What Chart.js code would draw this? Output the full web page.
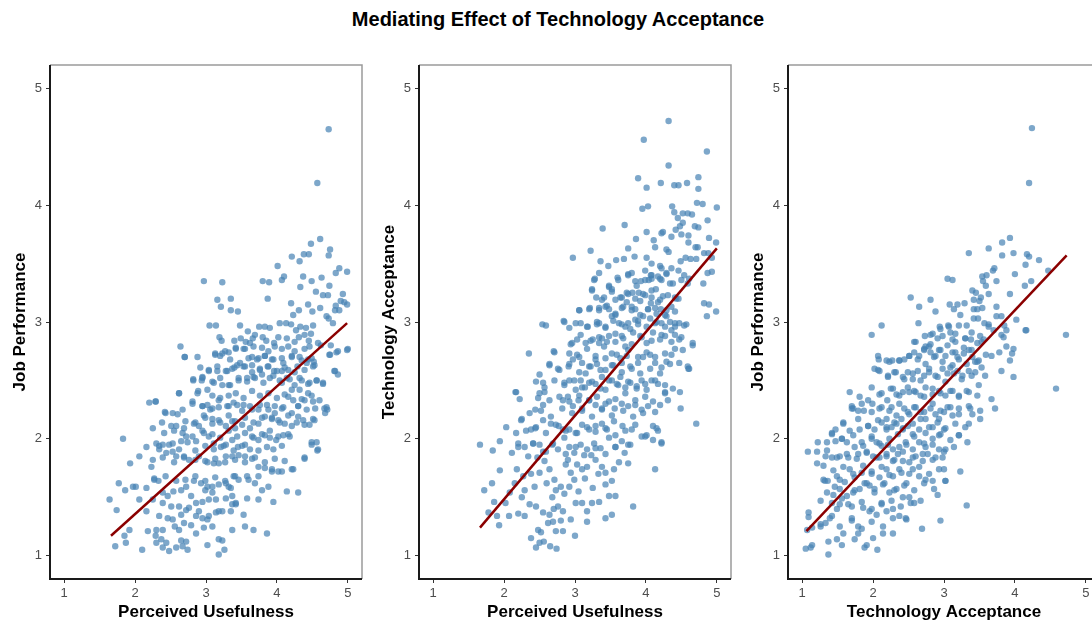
<!DOCTYPE html>
<html>
<head>
<meta charset="utf-8">
<script src="https://cdn.jsdelivr.net/npm/chart.js@4.4.1/dist/chart.umd.min.js"></script>
<style>
	html, body { margin: 0; padding: 0; background: #ffffff; overflow: hidden; }
	#page { position: relative; width: 1092px; height: 624px; overflow: hidden; }
	#titre { position: absolute; left: 0; width: 1116px; top: 8px; text-align: center;
		font: bold 20px 'Liberation Sans', Arial, sans-serif; color: #000; }
	.panneau { position: absolute; top: 0; }
</style>
</head>
<body>
<div id="page">
	<div id="titre">Mediating Effect of Technology Acceptance</div>
	<div class="panneau" style="left:0px"><canvas id="c1" width="366" height="624"></canvas></div>
	<div class="panneau" style="left:369px"><canvas id="c2" width="366" height="624"></canvas></div>
	<div class="panneau" style="left:738px"><canvas id="c3" width="366" height="624"></canvas></div>
</div>
<script>
// tick values shared by both axes of every panel
const tickValues = [1, 2, 3, 4, 5];

// Perceived Usefulness (x) vs Job Performance (y)
const usefulnessPerformance = [
	[4.73,4.65],[4.57,4.19],[4.61,3.71],[4.48,3.67],[4.75,3.62],[4.38,3.58],[4.45,3.58],[4.21,3.56],[4.32,3.52],[4.01,3.48],
	[4.73,3.57],[4.88,3.46],[4.83,3.42],[4.99,3.43],[4.49,3.35],[4.37,3.39],[4.10,3.39],[4.07,3.36],[3.80,3.35],[3.89,3.34],
	[2.97,3.35],[3.23,3.34],[4.63,3.38],[4.33,3.30],[4.74,3.31],[4.55,3.26],[4.65,3.23],[4.72,3.23],[4.93,3.24],[3.87,3.20],
	[3.16,3.19],[3.35,3.20],[3.21,3.13],[3.35,3.10],[3.45,3.09],[4.20,3.16],[4.44,3.15],[4.61,3.12],[4.83,3.14],[4.90,3.18],
	[4.95,3.17],[4.99,3.15],[4.82,3.10],[4.88,3.10],[4.23,3.06],[4.31,3.10],[4.50,3.09],[4.70,3.05],[4.73,3.03],[4.79,2.99],
	[3.05,2.97],[3.14,2.97],[3.48,2.97],[3.19,2.87],[3.75,2.96],[3.83,2.96],[3.90,2.95],[4.04,2.99],[4.13,2.99],[4.20,2.98],
	[4.27,2.93],[4.33,2.96],[4.41,2.95],[4.51,2.97],[3.59,2.92],[3.69,2.89],[3.49,2.86],[3.56,2.83],[3.80,2.87],[4.02,2.87],
	[4.14,2.86],[4.31,2.87],[4.39,2.89],[4.48,2.90],[2.64,2.79],[4.58,2.82],[5.00,2.77],[3.66,2.86],
	[3.22,2.84],[3.40,2.84],[3.62,2.82],[3.85,2.84],[3.96,2.82],[4.25,2.83],[4.45,2.84],[4.62,2.80],[4.76,2.80],
	[2.70,2.70],[3.13,2.72],[3.23,2.73],[3.32,2.74],[3.42,2.77],[3.53,2.77],[3.65,2.70],[3.74,2.69],[3.83,2.71],[3.93,2.68],
	[4.07,2.69],[4.21,2.71],[4.32,2.70],[4.44,2.68],[4.74,2.72],[4.84,2.74],[4.99,2.76],[4.52,2.66],[2.82,2.50],[2.94,2.50],
	[2.95,2.53],[3.04,2.58],[3.16,2.58],[3.28,2.58],[3.37,2.60],[3.44,2.63],[3.55,2.62],[3.65,2.63],[3.76,2.60],[3.87,2.62],
	[3.96,2.58],[4.07,2.58],[4.16,2.59],[4.29,2.62],[4.42,2.65],[4.53,2.63],[4.81,2.58],[4.86,2.55],[2.88,2.39],[3.02,2.42],
	[3.11,2.48],[3.23,2.46],[3.32,2.46],[3.46,2.50],[3.58,2.52],[3.67,2.53],[3.79,2.55],[3.90,2.52],[4.04,2.50],[4.14,2.52],
	[4.25,2.46],[4.35,2.50],[4.46,2.48],[4.56,2.50],[4.65,2.48],[4.60,2.33],[4.32,2.42],[4.44,2.39],[2.62,2.39],[2.20,2.31],
	[2.29,2.32],[2.42,2.23],[2.53,2.22],[2.67,2.25],[2.81,2.32],[2.95,2.28],[3.02,2.29],[3.09,2.26],[3.18,2.33],[3.32,2.28],
	[3.44,2.29],[3.53,2.29],[3.65,2.25],[3.76,2.29],[3.88,2.25],[3.97,2.28],[4.07,2.26],[4.16,2.36],[4.23,2.33],[4.30,2.28],
	[4.39,2.33],[4.51,2.32],[4.67,2.26],[4.71,2.25],[2.25,2.09],[2.38,2.14],[2.51,2.11],[2.58,2.11],[2.69,2.09],[2.83,2.13],
	[2.90,2.11],[2.99,2.18],[3.09,2.13],[3.18,2.16],[3.28,2.11],[3.37,2.15],[3.41,2.09],[3.51,2.12],[3.62,2.09],[3.74,2.13],
	[3.83,2.19],[3.93,2.18],[4.02,2.16],[4.11,2.13],[4.21,2.11],[4.30,2.19],[4.37,2.16],[4.46,2.12],[4.53,2.16],[1.83,2.00],
	[2.16,1.93],[2.30,1.96],[2.39,1.95],[2.53,1.96],[2.65,1.98],[2.72,2.02],[2.86,1.98],[2.97,2.05],[3.04,2.02],[3.11,1.96],
	[3.21,1.93],[3.28,1.95],[3.37,1.99],[3.45,1.93],[3.55,1.95],[3.65,2.02],[3.74,1.99],[3.83,2.03],[3.90,2.01],[3.99,1.99],
	[4.09,2.03],[4.18,2.02],[4.49,1.95],[4.57,1.90],[4.39,1.83],[1.93,1.79],[2.06,1.85],[2.23,1.76],[2.34,1.91],[2.44,1.88],
	[2.53,1.89],[2.58,1.85],[2.69,1.84],[2.76,1.82],[2.90,1.85],[2.99,1.81],[3.11,1.79],[3.18,1.79],[3.28,1.85],[3.37,1.85],
	[3.46,1.86],[3.55,1.85],[3.65,1.83],[3.74,1.76],[3.83,1.75],[3.93,1.74],[4.02,1.72],[4.11,1.81],[4.21,1.74],[1.77,1.62],
	[1.86,1.56],[2.01,1.59],[2.16,1.58],[2.27,1.66],[2.33,1.64],[2.39,1.54],[2.54,1.55],[2.58,1.64],[2.72,1.59],[2.83,1.64],
	[2.93,1.62],[2.99,1.56],[3.09,1.59],[3.18,1.61],[3.28,1.62],[3.35,1.58],[3.39,1.68],[3.46,1.65],[3.58,1.68],[3.69,1.62],
	[3.79,1.56],[3.88,1.59],[4.14,1.55],[4.30,1.54],[1.64,1.48],[2.25,1.48],[2.39,1.45],[2.51,1.42],[2.62,1.42],[2.76,1.41],
	[2.86,1.45],[2.95,1.46],[3.04,1.48],[3.14,1.48],[3.28,1.49],[3.37,1.44],[3.42,1.45],[3.58,1.49],[3.74,1.48],[3.95,1.46],
	[1.92,1.22],[1.85,1.17],[2.18,1.21],[2.29,1.17],[2.39,1.22],[2.46,1.32],[2.56,1.25],[2.65,1.35],[2.69,1.28],[2.79,1.26],
	[2.86,1.34],[2.95,1.32],[3.02,1.31],[3.14,1.37],[3.23,1.38],[3.35,1.38],[3.42,1.44],[3.55,1.25],[3.67,1.22],[3.86,1.19],
	[1.72,1.08],[1.87,1.11],[2.10,1.05],[2.30,1.11],[2.39,1.07],[2.48,1.04],[2.58,1.07],[2.67,1.08],[2.74,1.05],[3.02,1.09],
	[3.18,1.01],[3.26,1.05],[3.18,1.14],[3.23,1.13],[2.65,1.13],[2.37,1.14],
	[3.13,2.73],[3.27,2.75],[3.42,2.78],[3.55,2.77],[3.67,2.79],[3.79,2.78],[3.88,2.75],[3.97,2.79],[4.07,2.77],[4.16,2.79],
	[4.25,2.75],[4.39,2.77],[4.46,2.79],[2.70,2.70],[2.88,2.70],[3.20,2.71],[3.34,2.68],[3.48,2.65],[3.60,2.69],[3.72,2.68],
	[3.83,2.71],[3.95,2.68],[4.09,2.65],[4.21,2.70],[4.35,2.67],[4.49,2.69],[4.75,2.72],[4.86,2.75],[2.92,2.61],[3.04,2.59],
	[3.16,2.62],[3.30,2.58],[3.40,2.61],[3.53,2.62],[3.65,2.57],[3.76,2.59],[3.88,2.62],[4.00,2.58],[4.11,2.61],[4.25,2.57],
	[4.39,2.59],[4.51,2.62],[4.82,2.58],[2.82,2.51],[2.95,2.52],[3.09,2.49],[3.20,2.52],[3.34,2.46],[3.46,2.52],[3.58,2.49],
	[3.69,2.52],[3.81,2.48],[3.95,2.54],[4.07,2.48],[4.18,2.51],[4.32,2.52],[4.44,2.47],[4.56,2.50],[4.65,2.47],[2.62,2.39],
	[2.89,2.41],[3.09,2.37],[3.20,2.35],[3.32,2.37],[3.42,2.39],[3.53,2.35],[3.65,2.41],[3.76,2.37],[3.88,2.39],[4.00,2.35],
	[4.11,2.38],[4.21,2.42],[4.35,2.34],[4.49,2.37],[2.29,2.32],[2.81,2.30],[2.95,2.28],[3.06,2.25],[3.18,2.27],[3.30,2.28],
	[3.39,2.31],[3.51,2.24],[3.62,2.28],[3.74,2.25],[3.86,2.29],[3.97,2.22],[4.09,2.27],[4.21,2.22],[4.30,2.28],[4.42,2.25],
	[4.54,2.26],[4.70,2.27],[2.43,2.22],[2.60,2.21],[2.71,2.15],[2.85,2.14],[2.97,2.20],[3.09,2.17],[3.20,2.14],[3.32,2.20],
	[3.41,2.15],[3.55,2.18],[3.67,2.14],[3.79,2.18],[3.93,2.17],[4.04,2.14],[4.16,2.20],[4.28,2.14],[4.39,2.12],[4.51,2.17],
	[4.68,2.22],[2.41,2.05],[2.55,2.07],[2.67,2.05],[2.81,2.02],[2.95,2.07],[3.09,2.04],[3.20,2.01],[3.32,2.07],[3.44,2.02],
	[3.55,2.05],[3.67,2.01],[3.79,2.04],[3.90,2.07],[4.02,2.02],[4.16,2.04],[4.49,1.97],[4.56,1.97],[2.34,1.94],[2.48,1.95],
	[2.62,1.91],[2.74,1.97],[2.85,1.90],[2.99,1.94],[3.11,1.91],[3.25,1.94],[3.39,1.90],[3.51,1.94],[3.62,1.91],[3.74,1.90],
	[3.86,1.93],[3.95,1.91],[4.07,1.94],[4.58,1.91],[2.25,1.82],[2.39,1.84],[2.55,1.80],[2.69,1.85],[2.85,1.82],[3.02,1.80],
	[3.13,1.83],[3.27,1.80],[3.41,1.82],[3.55,1.80],[3.69,1.84],[3.83,1.80],[3.97,1.83],[4.39,1.84],[2.27,1.65],[2.43,1.68],
	[2.71,1.65],[2.85,1.68],[2.99,1.64],[3.13,1.67],[3.27,1.64],[3.41,1.68],[3.60,1.65],[3.74,1.68],[3.93,1.72],[4.07,1.72],
	[4.23,1.74],[2.46,1.51],[2.65,1.56],[2.79,1.51],[2.90,1.38],[3.04,1.34],[3.09,1.25],[3.18,1.38],[3.37,1.51],[3.09,1.54],
	[3.02,1.59],[3.32,1.59],[2.72,1.39],[2.53,1.31],[2.34,1.34],[2.16,1.38],[2.06,1.48],[1.97,1.59],[1.74,1.39],[2.30,1.22],
	[2.62,1.22],[2.86,1.19],[2.97,1.24],[3.37,1.22],[3.53,1.35],[2.72,1.12],[2.44,1.11]
];

// Perceived Usefulness (x) vs Technology Acceptance (y)
const usefulnessAcceptance = [
	[4.32,4.72],[3.97,4.56],[4.86,4.46],[4.32,4.34],[3.89,4.23],[4.74,4.24],[4.21,4.19],[4.01,4.15],[4.40,4.17],[4.46,4.17],
	[4.58,4.19],[4.74,4.14],[3.95,3.97],[4.03,3.99],[4.37,3.99],[4.72,4.02],[4.80,4.01],[5.00,3.98],[4.40,3.94],[4.52,3.93],
	[4.59,3.93],[4.65,3.92],[4.45,3.89],[4.52,3.85],[4.87,3.87],[4.42,3.79],[4.48,3.82],[4.69,3.82],[4.74,3.81],[3.39,3.80],
	[3.70,3.83],[4.01,3.77],[4.22,3.76],[4.24,3.77],[4.36,3.73],[4.50,3.75],[4.60,3.74],[4.89,3.72],[3.86,3.71],[4.11,3.70],
	[4.60,3.68],[4.70,3.64],[4.73,3.64],[4.99,3.68],[3.75,3.63],[4.13,3.64],[4.29,3.62],[4.32,3.60],[3.22,3.61],[2.97,3.55],
	[3.58,3.53],[3.69,3.54],[3.84,3.56],[4.01,3.55],[4.49,3.52],[4.56,3.55],[4.63,3.54],[4.71,3.54],[4.82,3.59],[4.88,3.59],
	[4.93,3.55],[3.36,3.52],[3.47,3.48],[4.08,3.50],[4.20,3.48],[4.22,3.46],[4.36,3.46],[4.46,3.44],[4.87,3.42],[4.93,3.43],
	[3.34,3.42],[3.75,3.41],[3.80,3.42],[3.99,3.44],[4.07,3.40],[4.17,3.39],[4.29,3.42],[4.54,3.40],[3.28,3.37],[3.60,3.38],
	[3.85,3.35],[3.93,3.35],[4.04,3.36],[4.08,3.37],[4.22,3.36],[4.34,3.33],[4.59,3.33],[4.81,3.33],[3.24,3.28],[3.52,3.28],
	[3.48,3.30],[3.73,3.25],[3.81,3.25],[3.90,3.25],[3.99,3.23],[4.08,3.27],[4.14,3.28],[4.24,3.22],[4.41,3.21],[4.46,3.20],
	[3.30,3.21],[3.41,3.21],[3.57,3.19],[3.66,3.21],[3.73,3.17],[3.92,3.18],[4.07,3.16],[4.17,3.17],[4.82,3.16],[4.89,3.15],
	[3.06,3.10],[3.21,3.12],[3.34,3.12],[3.43,3.13],[3.48,3.11],[3.66,3.12],[3.80,3.13],[3.85,3.11],[4.03,3.11],[4.13,3.12],
	[4.21,3.11],[4.27,3.06],[4.36,3.13],[4.99,3.09],[4.86,3.05],[2.54,2.98],[2.59,2.97],[2.84,3.01],[2.92,2.95],[3.08,2.99],
	[3.18,2.96],[3.31,2.98],[3.34,2.99],[3.43,2.95],[3.52,3.05],[3.57,3.06],[3.62,2.99],[3.71,2.96],[3.75,2.99],[3.85,3.02],
	[3.89,2.98],[3.96,3.05],[4.06,3.03],[4.13,2.99],[4.22,2.99],[4.29,3.05],[4.34,3.00],[4.41,2.96],[4.47,2.99],[4.57,2.98],
	[4.66,2.82],[4.47,2.85],[2.96,2.82],[3.03,2.85],[3.15,2.82],[3.25,2.85],[3.34,2.82],[3.38,2.86],[3.48,2.88],[3.57,2.83],
	[3.66,2.88],[3.71,2.79],[3.82,2.91],[3.92,2.88],[4.01,2.82],[4.10,2.91],[4.20,2.85],[4.27,2.88],[4.36,2.93],[4.41,2.89],
	[2.35,2.73],[2.70,2.75],[2.64,2.64],[2.76,2.60],[2.91,2.62],[2.97,2.68],[3.03,2.72],[3.10,2.65],[3.15,2.56],[3.22,2.62],
	[3.29,2.68],[3.36,2.59],[3.43,2.69],[3.52,2.63],[3.59,2.72],[3.66,2.65],[3.73,2.71],[3.80,2.60],[3.89,2.65],[3.96,2.70],
	[4.06,2.72],[4.13,2.65],[4.22,2.61],[4.29,2.66],[4.36,2.72],[4.47,2.65],[4.52,2.76],[4.66,2.80],[4.60,2.60],[2.50,2.55],
	[2.55,2.48],[2.57,2.40],[2.48,2.35],[2.85,2.48],[2.92,2.50],[3.01,2.42],[3.08,2.50],[3.14,2.44],[3.20,2.48],[3.29,2.47],
	[3.38,2.53],[3.43,2.42],[3.52,2.50],[3.59,2.47],[3.64,2.53],[3.71,2.44],[3.78,2.48],[3.87,2.45],[3.94,2.50],[4.01,2.42],
	[4.08,2.50],[4.17,2.47],[4.27,2.39],[4.38,2.43],[4.48,2.40],[4.59,2.62],[2.16,2.40],[2.22,2.34],[2.55,2.29],[2.44,2.25],
	[2.83,2.33],[2.90,2.36],[2.97,2.28],[3.05,2.33],[3.10,2.26],[3.20,2.33],[3.29,2.29],[3.38,2.25],[3.48,2.32],[3.56,2.26],
	[3.66,2.30],[3.75,2.28],[3.85,2.29],[3.94,2.25],[4.03,2.28],[4.10,2.32],[4.20,2.29],[4.31,2.33],[4.49,2.26],[2.25,2.17],
	[2.38,2.08],[2.44,2.09],[2.55,2.16],[2.66,2.13],[2.77,2.11],[2.83,2.08],[2.92,2.08],[3.01,2.05],[3.10,2.12],[3.20,2.08],
	[3.29,2.11],[3.38,2.13],[3.45,2.08],[3.55,2.15],[3.67,2.11],[3.80,2.08],[4.10,2.11],[4.15,2.09],[4.71,2.13],[1.66,1.95],
	[1.84,1.90],[1.94,1.98],[2.03,2.10],[2.11,1.88],[2.20,1.96],[2.29,1.93],[2.34,1.85],[2.41,1.96],[2.50,1.95],[2.59,1.89],
	[2.69,1.96],[2.76,1.91],[2.85,2.01],[2.92,1.93],[2.99,1.88],[3.08,1.95],[3.17,1.91],[3.27,1.96],[3.36,1.92],[3.48,2.01],
	[3.57,1.93],[3.66,1.98],[3.78,1.95],[3.99,2.02],[4.22,1.96],[4.10,1.99],[1.83,1.62],[1.72,1.56],[1.86,1.46],[1.94,1.73],
	[2.08,1.54],[2.18,1.74],[2.27,1.68],[2.29,1.56],[2.43,1.59],[2.57,1.81],[2.50,1.71],[2.64,1.74],[2.71,1.65],[2.73,1.56],
	[2.80,1.59],[2.87,1.78],[2.94,1.71],[2.99,1.65],[3.03,1.78],[3.10,1.74],[3.17,1.76],[3.29,1.82],[3.38,1.76],[3.43,1.71],
	[3.55,1.74],[3.75,1.79],[4.13,1.74],[3.43,1.61],[3.48,1.51],[3.57,1.51],[3.82,1.42],[2.92,1.59],[3.01,1.45],[3.10,1.45],
	[3.17,1.38],[3.24,1.45],[3.34,1.46],[3.43,1.32],[3.52,1.35],[3.17,1.29],[1.78,1.37],[1.90,1.34],[1.93,1.26],[2.07,1.34],
	[2.20,1.36],[2.29,1.34],[2.45,1.42],[2.55,1.37],[2.64,1.35],[2.69,1.29],[2.76,1.42],[2.83,1.38],[2.94,1.31],[2.38,1.15],
	[2.48,1.22],[2.45,1.07],[2.50,1.11],[2.56,1.12],[2.65,1.08],[2.74,1.06],[2.73,1.21],[2.83,1.21],[3.00,1.17],
	[3.27,3.36],[3.48,3.31],[3.61,3.36],[3.75,3.40],[3.87,3.31],[3.99,3.36],[4.08,3.40],[4.20,3.37],[4.29,3.41],[4.38,3.33],
	[4.50,3.36],[4.61,3.37],[3.24,3.27],[3.38,3.19],[3.52,3.26],[3.64,3.21],[3.75,3.24],[3.85,3.20],[3.96,3.24],[4.08,3.21],
	[4.20,3.19],[4.31,3.23],[4.43,3.20],[3.06,3.10],[3.20,3.11],[3.34,3.10],[3.45,3.14],[3.57,3.07],[3.68,3.13],[3.80,3.10],
	[3.92,3.06],[4.03,3.11],[4.15,3.07],[4.29,3.10],[4.41,3.09],[2.85,3.00],[3.01,2.99],[3.17,2.96],[3.31,3.00],[3.43,2.96],
	[3.54,3.01],[3.66,2.98],[3.78,2.94],[3.89,3.01],[4.01,2.96],[4.15,3.00],[4.27,2.96],[4.41,2.99],[4.54,2.97],[2.94,2.81],
	[3.08,2.89],[3.22,2.84],[3.34,2.87],[3.45,2.83],[3.57,2.90],[3.68,2.86],[3.80,2.81],[3.94,2.87],[4.08,2.84],[4.22,2.89],
	[4.36,2.83],[4.50,2.87],[2.71,2.74],[2.92,2.73],[3.06,2.70],[3.17,2.77],[3.29,2.71],[3.41,2.79],[3.52,2.73],[3.64,2.69],
	[3.75,2.76],[3.89,2.70],[4.01,2.74],[4.13,2.70],[4.27,2.73],[4.41,2.77],[2.64,2.63],[2.78,2.59],[2.92,2.64],[3.06,2.57],
	[3.20,2.62],[3.31,2.64],[3.43,2.59],[3.54,2.63],[3.66,2.57],[3.78,2.62],[3.92,2.56],[4.06,2.60],[4.20,2.56],[4.34,2.64],
	[4.61,2.60],[2.45,2.49],[2.57,2.44],[2.71,2.50],[2.85,2.46],[2.99,2.50],[3.10,2.44],[3.24,2.49],[3.36,2.43],[3.48,2.50],
	[3.61,2.46],[3.75,2.49],[3.87,2.43],[3.99,2.47],[4.13,2.50],[4.27,2.46],[2.17,2.40],[2.50,2.39],[2.64,2.33],[2.78,2.36],
	[2.92,2.32],[3.06,2.37],[3.20,2.33],[3.31,2.36],[3.43,2.30],[3.57,2.34],[3.71,2.39],[3.85,2.33],[3.99,2.36],[4.27,2.40],
	[2.24,2.16],[2.36,2.22],[2.52,2.24],[2.66,2.19],[2.82,2.26],[2.96,2.22],[3.10,2.24],[3.24,2.19],[3.38,2.26],[3.52,2.20],
	[3.68,2.24],[3.82,2.19],[3.96,2.22],[4.13,2.23],[2.17,2.05],[2.31,2.07],[2.45,2.10],[2.59,2.05],[2.73,2.12],[2.87,2.07],
	[3.03,2.05],[3.17,2.10],[3.29,2.06],[3.43,2.09],[3.57,2.03],[3.71,2.07],[3.85,2.12],[4.01,2.03],[4.17,2.07],[2.20,1.93],
	[2.41,1.96],[2.55,1.89],[2.68,1.95],[2.87,1.87],[3.01,1.93],[3.13,1.86],[3.29,1.92],[3.43,1.87],[3.57,1.93],[3.75,1.95],
	[3.94,2.02],[4.22,1.97],[2.25,1.50],[2.36,1.44],[2.60,1.62],[2.68,1.50],[2.85,1.53],[2.62,1.28],[2.52,1.20],[2.80,1.30],
	[3.05,1.55],[3.14,1.66],[3.25,1.58],[3.33,1.70],[3.52,1.64],[3.62,1.80],[3.70,1.88],[2.15,1.62],[2.02,1.45],[2.38,1.70],
	[2.47,1.84],[2.90,1.82],[3.23,1.86],[2.70,1.40]
];

// Technology Acceptance (x) vs Job Performance (y)
const acceptancePerformance = [
	[4.24,4.66],[4.20,4.19],[3.93,3.72],[3.82,3.68],[3.63,3.63],[3.35,3.59],[3.98,3.59],[4.17,3.58],[4.20,3.56],[3.82,3.57],
	[4.34,3.53],[4.15,3.49],[4.47,3.44],[3.71,3.46],[3.69,3.44],[3.54,3.39],[3.60,3.40],[3.05,3.37],[3.12,3.36],[4.00,3.41],
	[3.55,3.35],[3.74,3.35],[4.23,3.35],[4.14,3.31],[3.59,3.31],[3.40,3.27],[3.45,3.25],[3.63,3.24],[3.93,3.24],[3.52,3.21],
	[3.50,3.18],[2.53,3.21],[2.81,3.19],[3.42,3.19],[2.65,3.13],[3.08,3.15],[3.19,3.15],[3.29,3.16],[2.88,3.09],[3.14,3.11],
	[3.42,3.11],[3.47,3.11],[3.54,3.12],[3.74,3.13],[3.23,3.06],[3.74,3.05],[3.81,3.05],[3.42,3.03],[3.48,3.03],[4.02,3.02],
	[3.57,2.99],[3.63,2.98],[3.85,2.97],[2.64,2.99],[2.94,2.96],[3.06,2.97],[3.21,2.97],[3.32,2.97],[4.15,2.93],[3.88,2.93],
	[3.70,2.93],[1.98,2.89],[2.12,2.97],[4.72,2.89],[2.73,2.88],[2.81,2.89],[2.91,2.86],[2.98,2.88],[3.12,2.85],[3.30,2.86],
	[3.38,2.85],[3.47,2.82],[3.56,2.85],[3.81,2.89],[3.84,2.87],[3.09,2.91],[3.16,2.83],[2.60,2.83],[2.74,2.79],[2.79,2.79],
	[3.78,2.74],[3.88,2.79],[3.98,2.77],[3.96,2.73],[4.16,2.93],[4.58,2.43],[2.07,2.71],[2.08,2.68],[2.19,2.67],[2.27,2.67],
	[2.37,2.67],[2.44,2.68],[2.51,2.71],[2.58,2.74],[2.65,2.71],[2.72,2.76],[2.81,2.74],[2.88,2.71],[2.95,2.76],[3.02,2.71],
	[3.12,2.74],[3.19,2.70],[3.28,2.73],[3.35,2.76],[3.40,2.70],[3.47,2.66],[3.59,2.72],[3.67,2.71],[3.93,2.67],[2.02,2.60],
	[2.09,2.58],[2.21,2.54],[2.30,2.57],[2.42,2.53],[2.49,2.57],[2.56,2.51],[2.63,2.58],[2.72,2.54],[2.79,2.60],[2.88,2.54],
	[2.98,2.60],[3.05,2.56],[3.12,2.63],[3.19,2.58],[3.26,2.54],[3.35,2.58],[3.44,2.57],[3.53,2.61],[3.58,2.54],[3.81,2.58],
	[3.98,2.53],[3.44,2.66],[1.67,2.40],[1.81,2.36],[1.93,2.33],[1.99,2.30],[2.09,2.38],[2.20,2.33],[2.28,2.43],[2.33,2.38],
	[2.42,2.40],[2.51,2.40],[2.58,2.41],[2.67,2.37],[2.74,2.44],[2.84,2.38],[2.93,2.41],[3.02,2.37],[3.12,2.41],[3.21,2.36],
	[3.35,2.40],[3.47,2.37],[3.67,2.34],[3.72,2.26],[1.70,2.28],[1.79,2.24],[1.72,2.26],[1.87,2.24],[2.09,2.26],[2.19,2.17],
	[2.26,2.27],[2.33,2.20],[2.40,2.17],[2.44,2.26],[2.51,2.21],[2.58,2.27],[2.67,2.23],[2.74,2.17],[2.81,2.26],[2.88,2.21],
	[2.93,2.17],[3.00,2.23],[3.05,2.27],[3.12,2.20],[3.21,2.26],[3.35,2.28],[3.40,2.21],[3.51,2.17],[3.35,2.13],[3.21,2.03],
	[1.58,2.14],[1.67,2.07],[1.42,2.05],[1.47,2.08],[1.81,2.08],[1.93,2.11],[2.02,2.08],[2.12,2.14],[2.19,2.08],[2.26,2.10],
	[2.33,2.13],[2.42,2.08],[2.49,2.11],[2.56,2.04],[2.65,2.08],[2.74,2.05],[2.84,2.10],[2.93,2.03],[3.00,2.08],[1.22,1.97],
	[1.35,1.97],[1.47,1.98],[1.56,2.00],[1.63,1.97],[1.74,1.93],[1.86,1.94],[1.98,2.00],[2.05,1.97],[2.12,1.94],[2.21,1.95],
	[2.28,1.91],[2.37,1.93],[2.47,1.95],[2.56,1.91],[2.65,1.97],[2.74,1.93],[2.84,1.95],[2.93,1.91],[3.02,1.91],[3.14,1.93],
	[3.33,1.97],[1.08,1.89],[1.21,1.79],[1.33,1.85],[1.42,1.84],[1.53,1.85],[1.65,1.84],[1.79,1.87],[1.91,1.88],[2.00,1.85],
	[2.09,1.84],[2.19,1.85],[2.28,1.81],[2.35,1.87],[2.42,1.81],[2.51,1.80],[2.60,1.85],[2.70,1.81],[2.77,1.87],[2.88,1.84],
	[2.98,1.84],[1.30,1.65],[1.36,1.64],[1.49,1.68],[1.53,1.65],[1.67,1.74],[1.74,1.67],[1.84,1.71],[1.91,1.62],[1.98,1.70],
	[2.09,1.67],[2.19,1.74],[2.28,1.68],[2.40,1.71],[2.47,1.62],[2.56,1.74],[2.65,1.68],[2.74,1.65],[2.84,1.64],[3.00,1.74],
	[3.02,1.64],[3.23,1.72],[1.35,1.54],[1.44,1.52],[1.53,1.57],[1.63,1.51],[1.72,1.54],[1.81,1.57],[1.95,1.60],[2.02,1.54],
	[2.14,1.61],[2.23,1.54],[2.33,1.57],[2.42,1.50],[2.51,1.50],[2.58,1.45],[2.91,1.52],[3.32,1.43],[1.09,1.37],[1.14,1.24],
	[1.26,1.25],[1.33,1.28],[1.42,1.34],[1.49,1.40],[1.53,1.44],[1.65,1.44],[1.70,1.32],[1.79,1.25],[1.86,1.41],[1.95,1.38],
	[2.05,1.35],[2.12,1.44],[2.19,1.38],[2.28,1.40],[2.37,1.34],[2.47,1.31],[2.14,1.19],[2.28,1.19],[2.69,1.23],[2.95,1.30],
	[1.05,1.06],[1.12,1.07],[1.14,1.09],[1.37,1.01],[1.37,1.12],[1.49,1.14],[1.56,1.09],[1.74,1.14],[1.88,1.07],[1.91,1.09],
	[2.06,1.05],[2.00,1.15],[1.79,1.19],[1.58,1.19],[1.07,1.22],
	[2.84,2.90],[2.95,2.94],[3.07,2.96],[3.16,2.90],[3.30,2.86],[3.39,2.91],[3.51,2.88],[3.63,2.96],[2.58,2.83],[2.72,2.77],
	[2.81,2.81],[2.93,2.76],[3.05,2.80],[3.16,2.74],[3.28,2.78],[3.39,2.76],[3.53,2.83],[2.23,2.66],[2.37,2.67],[2.51,2.71],
	[2.63,2.68],[2.74,2.64],[2.86,2.70],[2.98,2.66],[3.09,2.61],[3.21,2.68],[3.32,2.64],[3.49,2.67],[2.07,2.59],[2.21,2.53],
	[2.32,2.57],[2.44,2.51],[2.56,2.56],[2.67,2.50],[2.79,2.57],[2.91,2.53],[3.02,2.49],[3.14,2.56],[3.25,2.51],[3.39,2.54],
	[1.98,2.44],[2.12,2.39],[2.25,2.43],[2.37,2.37],[2.49,2.44],[2.60,2.40],[2.72,2.36],[2.84,2.43],[2.95,2.39],[3.09,2.41],
	[3.21,2.37],[3.32,2.41],[3.49,2.46],[1.70,2.26],[1.84,2.30],[1.98,2.23],[2.12,2.27],[2.23,2.24],[2.37,2.30],[2.49,2.23],
	[2.60,2.27],[2.72,2.23],[2.84,2.30],[2.95,2.24],[3.09,2.27],[3.21,2.21],[3.37,2.26],[3.51,2.24],[1.58,2.13],[1.79,2.17],
	[1.93,2.11],[2.07,2.16],[2.19,2.10],[2.30,2.14],[2.42,2.09],[2.56,2.13],[2.67,2.17],[2.79,2.10],[2.91,2.14],[3.02,2.09],
	[3.16,2.13],[3.30,2.10],[1.42,2.04],[1.56,2.00],[1.72,2.03],[1.84,1.97],[1.98,2.02],[2.09,1.96],[2.23,2.00],[2.35,2.04],
	[2.46,1.97],[2.58,2.02],[2.72,1.96],[2.84,2.00],[2.95,2.04],[3.09,1.99],[3.21,2.03],[1.21,1.89],[1.35,1.90],[1.49,1.84],
	[1.63,1.87],[1.77,1.83],[1.91,1.89],[2.05,1.84],[2.19,1.87],[2.30,1.82],[2.42,1.89],[2.56,1.84],[2.70,1.87],[2.84,1.82],
	[3.00,1.89],[1.30,1.77],[1.44,1.73],[1.58,1.76],[1.72,1.70],[1.86,1.77],[1.98,1.72],[2.12,1.76],[2.23,1.69],[2.37,1.74],
	[2.51,1.70],[2.65,1.76],[2.79,1.70],[2.93,1.74],[1.32,1.64],[1.46,1.59],[1.60,1.63],[1.74,1.56],[1.88,1.62],[2.02,1.57],
	[2.16,1.62],[2.30,1.56],[2.44,1.60],[2.58,1.56],[2.72,1.62],[2.86,1.57],[3.02,1.64],[1.26,1.47],[1.42,1.45],[1.56,1.49],
	[1.70,1.42],[1.84,1.46],[1.98,1.40],[2.12,1.45],[2.26,1.47],[2.39,1.42],[2.53,1.45],[2.67,1.47],[1.09,1.33],[1.26,1.27],
	[1.39,1.32],[1.53,1.25],[1.70,1.30],[1.84,1.23],[1.98,1.29],[2.14,1.25],[2.28,1.32],[2.46,1.32]
];

// fitted lines, end points
const fitUsefulnessPerformance = [[1.66, 1.17], [4.99, 2.99]];
const fitUsefulnessAcceptance = [[1.66, 1.24], [5.00, 3.63]];
const fitAcceptancePerformance = [[1.06, 1.21], [4.73, 3.57]];

Chart.defaults.font.family = "'Liberation Sans', Arial, sans-serif";

// frame: grey top/right, dark left/bottom
var cadre = {
	id: 'cadre',
	afterDatasetsDraw: function(chart)
	{
		var a = chart.chartArea;
		var ctx = chart.ctx;
		ctx.save();
		ctx.lineWidth = 1.5;
		ctx.strokeStyle = '#9a9a9a';
		ctx.beginPath();
		ctx.moveTo(a.left, a.top);
		ctx.lineTo(a.right, a.top);
		ctx.lineTo(a.right, a.bottom);
		ctx.stroke();
		ctx.lineWidth = 2;
		ctx.strokeStyle = '#1a1a1a';
		ctx.beginPath();
		ctx.moveTo(a.left, a.top);
		ctx.lineTo(a.left, a.bottom);
		ctx.lineTo(a.right, a.bottom);
		ctx.stroke();
		ctx.restore();
	}
};

function toXY(pairs)
{
	return pairs.map(function(p) { return {x: p[0], y: p[1]}; });
}

function axe(titre, estX)
{
	return {
		type: 'linear',
		min: 0.8,
		max: 5.2,
		afterBuildTicks: function(scale) {
			scale.ticks = tickValues.map(function(v) { return {value: v}; });
		},
		afterFit: function(scale) {
			if (estX) scale.height = 45;
			else scale.width = 50;
		},
		grid: {
			drawOnChartArea: false,
			drawTicks: true,
			tickLength: 4,
			color: '#333333',
			lineWidth: 1
		},
		border: { display: false },
		ticks: {
			color: '#4d4d4d',
			padding: estX ? 3 : 4,
			font: { size: 13 },
			callback: function(value) { return value; }
		},
		title: {
			display: true,
			text: titre,
			color: '#000000',
			font: { size: 17, weight: 'bold' },
			padding: estX ? {top: 0, bottom: 1} : {top: 10, bottom: 0}
		}
	};
}

function generer_panneau(id, points, fit, titreX, titreY)
{
	new Chart(document.getElementById(id), {
		type: 'scatter',
		data: {
			datasets: [
			{
				type: 'line',
				data: toXY(fit),
				borderColor: '#8b0000',
				borderWidth: 2.5,
				pointRadius: 0,
				fill: false,
				order: 0
			},
			{
				data: toXY(points),
				backgroundColor: 'rgba(70, 130, 180, 0.7)',
				borderWidth: 0,
				pointRadius: 3.2,
				order: 1
			}]
		},
		options: {
			responsive: false,
			animation: false,
			layout: {
				padding: {top: 65, right: 1, bottom: 0, left: 0}
			},
			scales: {
				x: axe(titreX, true),
				y: axe(titreY, false)
			},
			plugins: {
				legend: { display: false },
				tooltip: { enabled: false }
			}
		},
		plugins: [cadre]
	});
}

generer_panneau('c1', usefulnessPerformance, fitUsefulnessPerformance, 'Perceived Usefulness', 'Job Performance');
generer_panneau('c2', usefulnessAcceptance, fitUsefulnessAcceptance, 'Perceived Usefulness', 'Technology Acceptance');
generer_panneau('c3', acceptancePerformance, fitAcceptancePerformance, 'Technology Acceptance', 'Job Performance');
</script>
</body>
</html>
